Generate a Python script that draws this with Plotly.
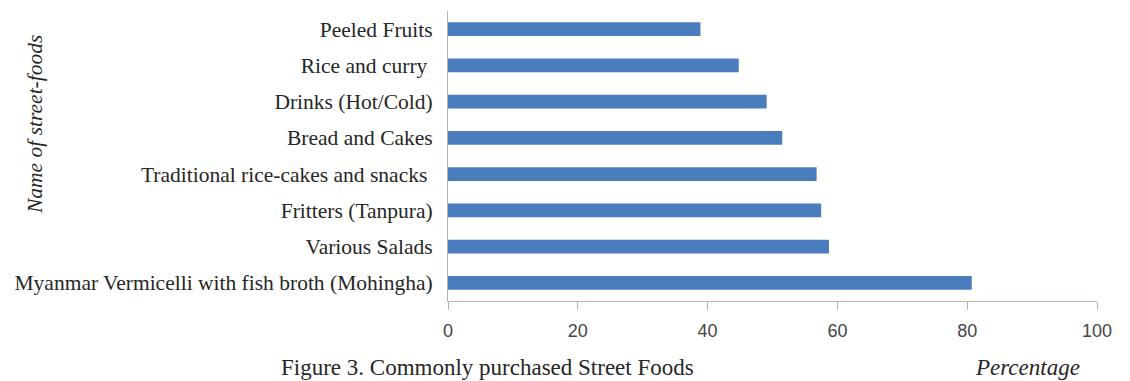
import plotly.graph_objects as go

# Data (bottom to top)
categories = [
    "Myanmar Vermicelli with fish broth (Mohingha)",
    "Various Salads",
    "Fritters (Tanpura)",
    "Traditional rice-cakes and snacks\u00a0",
    "Bread and Cakes",
    "Drinks (Hot/Cold)",
    "Rice and curry\u00a0",
    "Peeled Fruits",
]
percentages = [80.7, 58.7, 57.5, 56.8, 51.5, 49.1, 44.8, 38.9]
x_ticks = [0, 20, 40, 60, 80, 100]

caption = "Figure 3. Commonly purchased Street Foods"
x_title = "Percentage"
y_title = "Name of street-foods"

# The page body has an 8px default margin, so the figure is offset by 8px.
OFF = 8
W, H = 1130 - OFF, 381 - OFF
L, R, T, B = 448 - OFF, 33, 11 - OFF, 80
pw = W - L - R
ph = H - T - B

def px_x(x):  # page x -> paper fraction
    return (x - OFF - L) / pw

def px_y(y):  # page y -> paper fraction
    return (H - B - (y - OFF)) / ph

fig = go.Figure(
    go.Bar(
        x=percentages,
        y=categories,
        orientation="h",
        marker=dict(color="#4a7dbd", line=dict(width=0)),
        hoverinfo="x+y",
    )
)

axis_col = "#bdb2a6"
fig.update_layout(
    width=W,
    height=H,
    margin=dict(l=L, r=R, t=T, b=B, pad=0),
    paper_bgcolor="white",
    plot_bgcolor="white",
    bargap=0.62,
    showlegend=False,
    xaxis=dict(
        range=[0, 100],
        tickvals=x_ticks,
        ticktext=[str(v) for v in x_ticks],
        showgrid=False,
        zeroline=False,
        showline=True,
        linecolor=axis_col,
        linewidth=1,
        ticks="outside",
        ticklen=8,
        tickcolor=axis_col,
        ticklabelstandoff=5,
        tickfont=dict(family="Liberation Sans, Arial, sans-serif", size=18, color="#454545"),
        fixedrange=True,
    ),
    yaxis=dict(
        type="category",
        categoryorder="array",
        categoryarray=categories,
        showgrid=False,
        zeroline=False,
        showline=True,
        linecolor=axis_col,
        linewidth=1,
        ticks="",
        ticklabelstandoff=10,
        tickfont=dict(family="Liberation Serif, Times New Roman, serif", size=21.5, color="#262626"),
        fixedrange=True,
    ),
    annotations=[
        dict(
            text=caption, xref="paper", yref="paper",
            x=px_x(487), y=px_y(367), xanchor="center", yanchor="middle",
            showarrow=False,
            font=dict(family="Liberation Serif, Times New Roman, serif", size=23, color="#262626"),
        ),
        dict(
            text="<i>" + x_title + "</i>", xref="paper", yref="paper",
            x=px_x(1027), y=px_y(367), xanchor="center", yanchor="middle",
            showarrow=False,
            font=dict(family="Liberation Serif, Times New Roman, serif", size=23, color="#262626"),
        ),
        dict(
            text="<i>" + y_title + "</i>", xref="paper", yref="paper",
            x=px_x(35), y=px_y(125), xanchor="center", yanchor="middle",
            textangle=-90, showarrow=False,
            font=dict(family="Liberation Serif, Times New Roman, serif", size=21.5, color="#262626"),
        ),
    ],
)

fig.write_html("out.html")
